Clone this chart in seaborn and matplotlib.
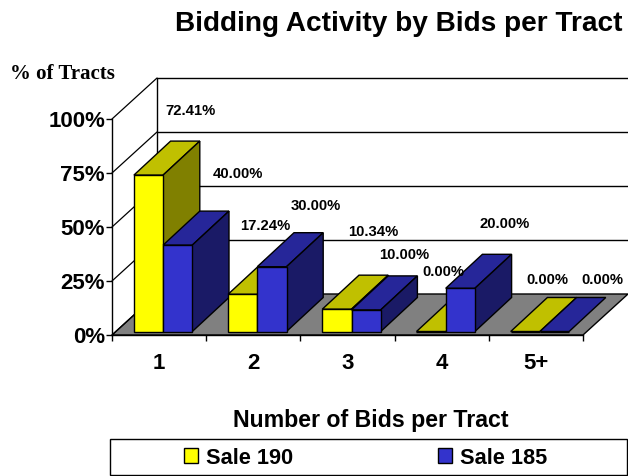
import matplotlib
matplotlib.use("Agg")
import matplotlib.pyplot as plt
from matplotlib.patches import Polygon, Rectangle
import pandas as pd
import seaborn as sns

categories = ["1", "2", "3", "4", "5+"]
sale_190 = [72.41, 17.24, 10.34, 0.00, 0.00]
sale_185 = [40.00, 30.00, 10.00, 20.00, 0.00]
series_names = ["Sale 190", "Sale 185"]
y_ticks = [0, 25, 50, 75, 100]

# layout (pixels)
W, H = 628, 476
AX_L, AX_R, AX_B, AX_T = 112, 583, 335, 119
WALL_DX, WALL_DY = 45, 41
FRONT_DX, FRONT_DY = 4, 3.5
BAR_DX, BAR_DY = 36.7, 34
# label offsets from the centre of each bar's top front edge (pixels), per series
LABEL_OFF = [
    [(42, 64), (23, 68), (36, 77), (12, 59), (22, 51)],
    [(60, 71), (44, 61), (38, 55), (44, 64), (48, 51)],
]
COLORS = {"front": ["#FFFF00", "#3333CC"],
          "top": ["#C0C000", "#262699"],
          "side": ["#808000", "#1A1A66"]}

sns.set_theme(style="white")
plt.rcParams["font.family"] = ["Liberation Sans", "DejaVu Sans"]
plt.rcParams["font.weight"] = "bold"

fig = plt.figure(figsize=(W / 100, H / 100), dpi=100, facecolor="white")
ax = fig.add_axes([AX_L / W, (H - AX_B) / H, (AX_R - AX_L) / W, (AX_B - AX_T) / H])

df = pd.DataFrame({
    "Bids": categories * 2,
    "Share": sale_190 + sale_185,
    "Sale": [series_names[0]] * len(categories) + [series_names[1]] * len(categories),
})
sns.barplot(data=df, x="Bids", y="Share", hue="Sale", order=categories,
            hue_order=series_names, palette=COLORS["front"], width=0.62,
            saturation=1, edgecolor="black", linewidth=1, ax=ax)
handles, labels = ax.get_legend_handles_labels()
if ax.get_legend():
    ax.get_legend().remove()

ax.set_xlim(-0.5, len(categories) - 0.5)
ax.set_ylim(0, 100)
px_x = len(categories) / (AX_R - AX_L)
px_y = 100 / (AX_B - AX_T)


def off(dx, dy):
    return dx * px_x, dy * px_y


# walls and floor
wx, wy = off(WALL_DX, WALL_DY)
x0, x1 = -0.5, len(categories) - 0.5
ax.add_patch(Polygon([(x0, 0), (x1, 0), (x1 + wx, wy), (x0 + wx, wy)], closed=True,
                     facecolor="#808080", edgecolor="black", lw=1, clip_on=False, zorder=1))
for t in y_ticks[1:]:
    ax.plot([x0 + wx, x1 + wx], [t + wy, t + wy], color="black", lw=1, clip_on=False, zorder=1)
for t in y_ticks:
    ax.plot([x0, x0 + wx], [t, t + wy], color="black", lw=0.9, clip_on=False, zorder=1)
ax.plot([x0 + wx, x0 + wx], [wy, 100 + wy], color="black", lw=1, clip_on=False, zorder=1)

# 3-D bars built from the bars seaborn drew
fx, fy = off(FRONT_DX, FRONT_DY)
bx, by = off(BAR_DX, BAR_DY)
for s, cont in enumerate(ax.containers):
    for c, bar in enumerate(cont.patches):
        z = 10 + c * 10 + s * 3
        l, w, h = bar.get_x() + fx, bar.get_width(), bar.get_height()
        r = l + w
        b = fy
        t = b + h
        bar.set_xy((l, b))
        bar.set_clip_on(False)
        bar.set_zorder(z + 2)
        ax.add_patch(Polygon([(l, t), (r, t), (r + bx, t + by), (l + bx, t + by)], closed=True,
                             facecolor=COLORS["top"][s], edgecolor="black", lw=1,
                             clip_on=False, zorder=z))
        if h > 0:
            ax.add_patch(Polygon([(r, b), (r + bx, b + by), (r + bx, t + by), (r, t)], closed=True,
                                 facecolor=COLORS["side"][s], edgecolor="black", lw=1,
                                 clip_on=False, zorder=z + 1))
        ox, oy = LABEL_OFF[s][c]
        ax.annotate(f"{h:.2f}%", xy=(l + w / 2, t), xytext=(ox * 0.72, oy * 0.72),
                    textcoords="offset points", ha="center", va="center",
                    fontsize=10.7, fontweight="bold", color="black",
                    annotation_clip=False, zorder=200)

# axes furniture
sns.despine(ax=ax, top=True, right=True)
for sp in ("left", "bottom"):
    ax.spines[sp].set_color("black")
    ax.spines[sp].set_linewidth(1)
    ax.spines[sp].set_zorder(5)
ax.set_yticks(y_ticks)
ax.set_yticklabels([f"{t}%" for t in y_ticks], fontsize=16, fontweight="bold", color="black")
ax.set_xticks(range(len(categories)))
ax.set_xticklabels(categories, fontsize=16, fontweight="bold", color="black")
ax.set_xticks([i - 0.5 for i in range(len(categories) + 1)], minor=True)
ax.tick_params(axis="x", which="major", length=0, pad=13)
ax.tick_params(axis="x", which="minor", length=4, width=1, color="black", bottom=True)
ax.tick_params(axis="y", which="major", length=4, width=1, color="black", pad=1, left=True)
ax.set_ylabel("")
ax.set_xlabel("")

fig.text(398.5 / W, 1 - 24 / H, "Bidding Activity by Bids per Tract", ha="center", va="center",
         fontsize=20.2, fontweight="bold", color="black")
fig.text(62 / W, 1 - 74 / H, "% of Tracts", ha="center", va="center", fontsize=15,
         fontweight="bold", family="Liberation Serif", color="black")
fig.text(371 / W, 1 - 421 / H, "Number of Bids per Tract", ha="center", va="center",
         fontsize=16.7, fontweight="bold", color="black")

# legend
fig.add_artist(Rectangle((109.5 / W, 1 - 475 / H), 517 / W, 36 / H, transform=fig.transFigure,
                         facecolor="white", edgecolor="black", lw=1))
leg = fig.legend(handles, labels, loc="center", bbox_to_anchor=(365.5 / W, 1 - 458 / H),
                 bbox_transform=fig.transFigure, ncol=2, frameon=False, fontsize=15.7,
                 handlelength=0.67, handleheight=0.67, handletextpad=0.35, columnspacing=6.63,
                 borderpad=0, borderaxespad=0)
for t in leg.get_texts():
    t.set_fontweight("bold")
    t.set_color("black")

fig.savefig("out.png", dpi=100, facecolor="white")
